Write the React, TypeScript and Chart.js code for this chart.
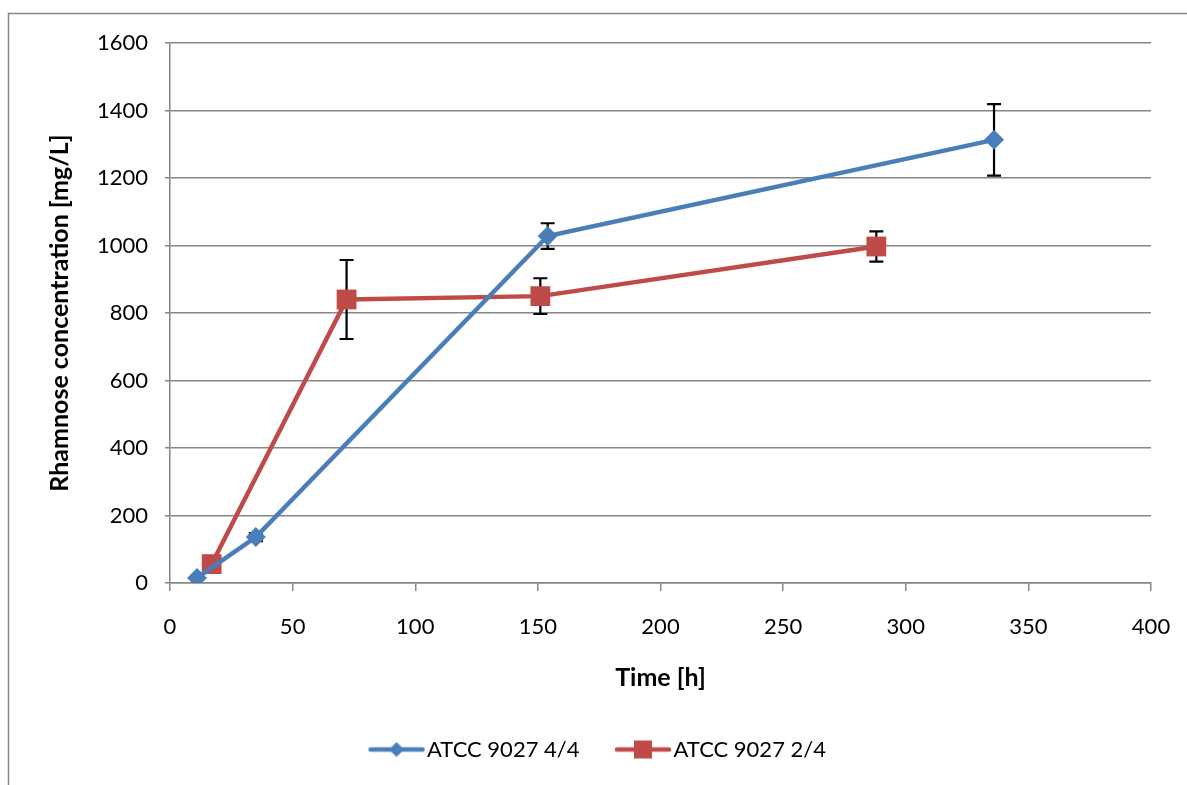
import React, { useEffect, useRef } from 'react';
import { Chart, registerables } from 'chart.js';

Chart.register(...registerables);

const seriesNames = ['ATCC 9027 4/4', 'ATCC 9027 2/4'];
const blueTime = [11, 35, 154, 336];
const blueConc = [15, 136, 1028, 1313];
const blueErr = [0, 12, 38, 106];
const redTime = [17, 72, 151, 288];
const redConc = [56, 840, 850, 997];
const redErr = [0, 117, 53, 45];
const xTitle = 'Time [h]';
const yTitle = 'Rhamnose concentration [mg/L]';
const xMin = 0, xMax = 400, xStep = 50;
const yMin = 0, yMax = 1600, yStep = 200;

const BLUE = '#4A7EBB';
const RED = '#BE4B48';
const GRID = '#868686';
const FONT = 'Lato, "Open Sans", sans-serif';

function legendIcon(color: string, kind: 'diamond' | 'square') {
  const c = document.createElement('canvas');
  c.width = 58;
  c.height = 22;
  const g = c.getContext('2d')!;
  g.strokeStyle = color;
  g.lineWidth = 4.5;
  g.lineCap = 'round';
  g.beginPath();
  g.moveTo(3, 11);
  g.lineTo(55, 11);
  g.stroke();
  g.fillStyle = color;
  if (kind === 'diamond') {
    g.beginPath();
    g.moveTo(29, 3.5);
    g.lineTo(36.5, 11);
    g.lineTo(29, 18.5);
    g.lineTo(21.5, 11);
    g.closePath();
    g.fill();
  } else {
    g.fillRect(20, 2, 18, 18);
  }
  return c;
}

const frameAndErrors = {
  id: 'frameAndErrors',
  beforeDraw(chart: any) {
    const ctx = chart.ctx;
    ctx.save();
    ctx.fillStyle = '#ffffff';
    ctx.fillRect(0, 0, chart.width, chart.height);
    ctx.strokeStyle = GRID;
    ctx.lineWidth = 1.5;
    ctx.strokeRect(8.5, 13.5, chart.width + 50, chart.height + 50);
    ctx.restore();
  },
  beforeDatasetsDraw(chart: any) {
    const ctx = chart.ctx;
    const xs = chart.scales.x;
    const ys = chart.scales.y;
    const sets = [
      { t: blueTime, v: blueConc, e: blueErr },
      { t: redTime, v: redConc, e: redErr },
    ];
    ctx.save();
    ctx.strokeStyle = '#000000';
    ctx.lineWidth = 2.2;
    sets.forEach((s) => {
      s.t.forEach((t, i) => {
        const err = s.e[i];
        if (!err) return;
        const x = xs.getPixelForValue(t);
        const yTop = ys.getPixelForValue(s.v[i] + err);
        const yBot = ys.getPixelForValue(s.v[i] - err);
        ctx.beginPath();
        ctx.moveTo(x, yTop);
        ctx.lineTo(x, yBot);
        ctx.moveTo(x - 7, yTop);
        ctx.lineTo(x + 7, yTop);
        ctx.moveTo(x - 7, yBot);
        ctx.lineTo(x + 7, yBot);
        ctx.stroke();
      });
    });
    ctx.restore();
  },
};

export default function App() {
  const ref = useRef<HTMLCanvasElement | null>(null);

  useEffect(() => {
    if (!ref.current) return;
    const icons = [legendIcon(BLUE, 'diamond'), legendIcon(RED, 'square')];
    const chart = new Chart(ref.current, {
      type: 'line',
      data: {
        datasets: [
          {
            label: seriesNames[0],
            data: blueTime.map((t, i) => ({ x: t, y: blueConc[i] })),
            borderColor: BLUE,
            backgroundColor: BLUE,
            borderWidth: 4.5,
            pointStyle: 'rectRot',
            pointRadius: 10,
            pointBorderWidth: 0,
            pointBackgroundColor: BLUE,
            tension: 0,
          },
          {
            label: seriesNames[1],
            data: redTime.map((t, i) => ({ x: t, y: redConc[i] })),
            borderColor: RED,
            backgroundColor: RED,
            borderWidth: 4.5,
            pointStyle: 'rect',
            pointRadius: 14,
            pointBorderWidth: 0,
            pointBackgroundColor: RED,
            tension: 0,
          },
        ],
      },
      options: {
        animation: false,
        responsive: false,
        maintainAspectRatio: false,
        layout: { padding: { left: 52, top: 43, right: 36, bottom: 14.5 } },
        plugins: {
          tooltip: { enabled: false },
          legend: {
            position: 'bottom',
            labels: {
              usePointStyle: true,
              pointStyleWidth: 39,
              padding: 44,
              color: '#000000',
              font: { family: FONT, size: 22 },
              generateLabels: () =>
                seriesNames.map((n, i) => ({
                  text: n,
                  pointStyle: icons[i] as any,
                  fillStyle: 'transparent',
                  strokeStyle: 'transparent',
                  lineWidth: 0,
                  hidden: false,
                  datasetIndex: i,
                  fontColor: '#000000',
                })),
            },
          },
        },
        scales: {
          x: {
            type: 'linear',
            min: xMin,
            max: xMax,
            afterFit: (s: any) => {
              s.height = 111.5;
              s.paddingLeft = 0;
              s.paddingRight = 0;
            },
            ticks: {
              stepSize: xStep,
              padding: 22.8,
              color: '#000000',
              font: { family: FONT, size: 22 },
              maxRotation: 0,
              callback: (v: any) => String(v),
            },
            grid: {
              drawOnChartArea: false,
              drawTicks: true,
              tickLength: 8,
              color: GRID,
              lineWidth: 1.5,
            },
            border: { display: true, color: GRID, width: 1.5 },
            title: {
              display: true,
              text: xTitle,
              color: '#000000',
              font: { family: FONT, size: 25, weight: 'bold' },
              padding: { top: 0, bottom: 1.5 },
            },
          },
          y: {
            type: 'linear',
            min: yMin,
            max: yMax,
            afterFit: (s: any) => {
              s.width = 118;
              s.paddingTop = 0;
              s.paddingBottom = 0;
            },
            ticks: {
              stepSize: yStep,
              padding: 17,
              color: '#000000',
              font: { family: FONT, size: 22 },
              callback: (v: any) => String(v),
            },
            grid: {
              drawOnChartArea: true,
              drawTicks: true,
              tickLength: 5,
              color: GRID,
              lineWidth: 1.5,
            },
            border: { display: true, color: GRID, width: 1.5 },
            title: {
              display: true,
              text: yTitle,
              color: '#000000',
              font: { family: FONT, size: 25, weight: 'bold' },
              padding: { top: -7, bottom: 0 },
            },
          },
        },
      },
      plugins: [frameAndErrors],
    });
    return () => chart.destroy();
  }, []);

  return (
    <div style={{ position: 'fixed', left: 0, top: 0, width: 1187, height: 785, background: '#fff' }}>
      <canvas ref={ref} width={1187} height={785} style={{ display: 'block', width: 1187, height: 785 }} />
    </div>
  );
}
